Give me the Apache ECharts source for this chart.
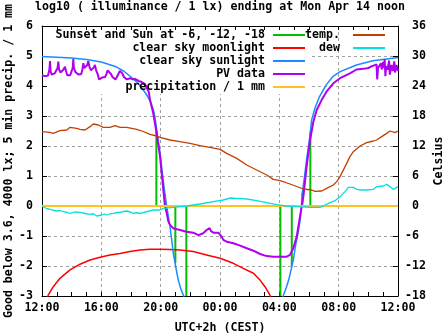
<!DOCTYPE html>
<html><head><meta charset="utf-8">
<script src="https://cdn.jsdelivr.net/npm/echarts@6/dist/echarts.min.js"></script>
<style>html,body{margin:0;padding:0;background:#fff}#c{width:447px;height:335px}</style>
</head><body><div id="c"></div>
<script>
// ---- data (x in hours after 12:00 of Apr 13) ----
const xTickLabels = ['12:00','16:00','20:00','00:00','04:00','08:00','12:00'];

const sunEventHours  = [7.71, 8.30, 8.99, 9.73, 16.07, 16.84, 17.55, 18.09];
const sunEventValues = [2.5, 0.4, -1.9, -3, -3, -2.0, 0.43, 2.45];

const moonHours  = [0.30,0.42,0.76,1.21,1.89,2.56,3.24,3.91,4.58,5.26,5.93,6.61,7.28,7.96,8.63,9.30,10.2,11.1,12.0,12.9,13.57,14.25,14.7,15.03,15.37,15.5];
const moonValues = [-3.2,-2.97,-2.69,-2.41,-2.13,-1.94,-1.80,-1.71,-1.63,-1.58,-1.52,-1.47,-1.44,-1.44,-1.45,-1.47,-1.52,-1.63,-1.74,-1.91,-2.08,-2.24,-2.47,-2.69,-2.97,-3.2];

const sunlightHours  = [0,1,2,3,4,5,5.5,6,6.5,7,7.3,7.5,7.62,7.8,7.96,8.1,8.2,8.3,8.41,8.52,8.63,8.75,8.85,8.97,9.08,9.19,9.35,9.53,9.7,
  12.9,
  16.1,16.28,16.47,16.63,16.84,16.96,17.1,17.3,17.42,17.55,17.7,17.85,18.0,18.18,18.4,18.7,19.15,19.6,20.1,21.2,22.3,23.5,24];
const sunlightValues = [4.98,4.96,4.93,4.88,4.80,4.64,4.50,4.30,4.08,3.75,3.50,3.22,2.95,2.30,1.77,1.15,0.75,0.35,-0.02,-0.35,-0.69,-1.15,-1.57,-1.90,-2.20,-2.47,-2.75,-2.97,-3.2,
  null,
  -3.2,-2.97,-2.72,-2.47,-2.02,-1.75,-1.30,-0.80,-0.40,0.43,1.00,1.60,2.10,2.87,3.26,3.64,4.03,4.31,4.48,4.70,4.84,4.92,4.95];

const pvHours = [0.0,0.1,0.2,0.3,0.4,0.5,0.54,0.58,0.65,0.75,0.85,0.95,1.05,1.1,1.15,1.25,1.35,1.45,1.55,1.62,1.7,1.8,1.9,2.0,2.07,2.11,2.15,2.25,2.35,2.45,2.55,2.65,2.72,2.79,2.85,2.95,3.05,3.12,3.2,3.3,3.4,3.5,3.57,3.65,3.75,3.85,3.95,4.05,4.15,4.25,4.35,4.42,4.47,4.55,4.65,4.75,4.85,4.95,5.05,5.15,5.25,5.33,5.42,5.52,5.62,5.72,5.82,5.95,6.1,6.25,6.4,6.55,6.7,6.83,6.95,7.06,7.2,7.28,7.5,7.73,7.96,8.07,8.18,8.29,8.41,8.52,8.63,8.85,9.3,9.75,10.2,10.54,10.87,11.1,11.21,11.3,11.4,11.55,11.89,12.0,12.11,12.22,12.45,12.9,13.35,13.8,14.25,14.7,15.15,15.6,16.04,16.5,16.72,16.94,17.17,17.39,17.62,17.84,18.07,18.29,18.52,18.85,19.18,19.64,20.09,20.76,21.2,21.5,21.8,22.0,22.15,22.25,22.35,22.45,22.55,22.6,22.65,22.75,22.85,22.9,23.0,23.05,23.1,23.15,23.2,23.3,23.4,23.45,23.55,23.65,23.75,23.8,23.9,24];
const pvValues = [4.36,4.37,4.33,4.31,4.34,4.55,4.83,4.50,4.38,4.40,4.42,4.45,4.60,4.81,4.55,4.45,4.50,4.55,4.64,4.50,4.36,4.37,4.36,4.40,4.60,4.90,4.60,4.47,4.42,4.38,4.33,4.40,4.55,4.76,4.60,4.55,4.70,4.83,4.64,4.52,4.55,4.62,4.70,4.52,4.40,4.22,4.20,4.28,4.26,4.30,4.40,4.52,4.58,4.50,4.40,4.30,4.26,4.22,4.30,4.40,4.50,4.53,4.42,4.30,4.25,4.22,4.20,4.26,4.22,4.24,4.20,4.16,4.14,4.11,4.06,4.00,3.80,3.53,3.09,2.42,1.64,1.09,0.53,0.00,-0.24,-0.52,-0.63,-0.74,-0.80,-0.86,-0.89,-0.97,-0.91,-0.80,-0.86,-0.74,-0.84,-0.89,-0.89,-0.90,-1.02,-1.13,-1.19,-1.24,-1.32,-1.41,-1.49,-1.60,-1.67,-1.69,-1.69,-1.69,-1.63,-1.41,-1.02,-0.36,0.31,1.31,2.20,2.80,3.20,3.53,3.81,4.09,4.26,4.42,4.55,4.57,4.58,4.60,4.64,4.58,4.68,4.62,4.72,4.22,4.60,4.66,4.76,4.55,4.80,4.60,4.90,4.33,4.66,4.55,4.85,4.38,4.70,4.50,4.82,4.45,4.70,4.50];

const precipHours  = [0,2,4,6,8,10,12,14,16,18,20,22,24];
const precipValues = [0,0,0,0,0,0,0,0,0,0,0,0,0];

const tempHours  = [0,0.54,0.76,1.21,1.67,1.89,2.34,2.56,2.9,3.24,3.46,3.8,3.91,4.13,4.58,4.92,5.26,5.71,6.05,6.38,6.83,7.28,7.73,7.96,8.63,9.3,9.98,10.65,11.33,12.0,12.45,13.13,13.8,14.47,15.15,15.59,16.05,16.72,17.17,17.62,18.18,18.4,18.86,19.19,19.64,19.87,20.09,20.43,20.76,20.99,21.44,21.89,22.34,22.56,22.9,23.24,23.46,23.8,24];
const tempValues = [14.87,14.73,14.53,15.07,15.2,15.73,15.53,15.33,15.2,15.87,16.4,16.2,16.4,15.73,15.73,16.07,15.73,15.73,15.53,15.33,14.9,14.33,14.0,13.73,13.2,12.87,12.53,12.07,11.73,11.33,10.53,9.53,8.2,7.2,6.2,5.33,5.07,4.4,3.9,3.4,3.2,2.93,3.0,3.53,4.2,4.87,5.87,7.87,9.87,10.87,12.0,12.67,13.0,13.2,13.87,14.53,15.0,14.67,15.0];

const dewHours  = [0,0.09,0.32,0.54,0.75,0.99,1.2,1.44,1.7,1.89,2.2,2.56,2.9,3.24,3.45,3.69,4.02,4.2,4.36,4.6,4.81,5.05,5.26,5.5,5.71,5.95,6.16,6.4,6.61,6.85,7.06,7.5,7.96,8.18,8.85,9.75,10.65,11.55,12.22,12.7,13.13,13.8,14.47,15.15,15.82,16.5,17.17,17.84,18.07,18.74,19.08,19.42,19.75,20.09,20.43,20.65,20.99,21.22,21.55,21.9,22.34,22.56,23.01,23.24,23.46,23.68,24];
const dewValues = [-0.1,-0.27,-0.5,-0.67,-0.85,-1.0,-0.9,-1.13,-1.3,-1.47,-1.2,-1.27,-1.5,-1.67,-1.55,-2.0,-1.8,-1.6,-1.8,-1.55,-1.47,-1.3,-1.27,-1.1,-1.0,-1.2,-1.47,-1.35,-1.47,-1.3,-1.13,-0.8,-0.8,-0.47,-0.27,0,0.4,0.87,1.2,1.6,1.53,1.4,1.07,0.67,0.27,0,-0.13,-0.2,-0.27,-0.27,0.2,0.67,1.07,1.87,2.87,3.73,3.73,3.33,3.2,3.2,3.33,3.87,4.0,4.33,3.87,3.33,3.87];

// ---- build ----
const zip = (xs, ys) => xs.map((x, i) => [x, ys[i] === null ? '-' : ys[i]]);
const sunEventData = [];
sunEventHours.forEach((h, i) => { sunEventData.push([h, 0], [h, sunEventValues[i]], [h, '-']); });

const FF = '"DejaVu Sans Mono", monospace';
const FS = 11.6;
const txt = { fontFamily: FF, fontSize: FS, fontWeight: 'bold', color: '#000' };

const C = { green: '#00c000', red: '#ff0000', blue: '#1a8cff', purple: '#b000f0', yellow: '#ffc020', temp: '#c04000', dew: '#00e0e0' };

function leg(name, right, rowY, padR) {
  return { data: [name], right: right, top: rowY - 6.5, align: 'right', icon: 'rect', itemWidth: 32, itemHeight: 2,
    padding: 0, itemStyle: { borderWidth: 0 },
    textStyle: Object.assign({}, txt, { lineHeight: 13, padding: [0, padR, 0, 0] }) };
}
function line(name, data, color, width, yIdx) {
  return { name: name, type: 'line', data: data, yAxisIndex: yIdx || 0, symbol: 'none', color: color,
    lineStyle: { color: color, width: width }, clip: true, connectNulls: false, animation: false };
}

const grid = { left: 42, right: 49, top: 26, bottom: 39, outerBoundsMode: 'none' };
const blackLine = { show: true, onZero: false, lineStyle: { color: '#000', width: 1 } };
const dashGrid = { show: true, showMinLine: false, showMaxLine: false, lineStyle: { color: '#a0a0a0', type: [3, 3], width: 1 } };

const option = {
  animation: false,
  backgroundColor: '#fff',
  title: { text: 'log10 ( illuminance / 1 lx) ending at Mon Apr 14 noon', left: 35, top: 1, padding: 0,
    textStyle: Object.assign({}, txt) },
  grid: grid,
  graphic: [{ type: 'rect', z: 1, shape: { x: 48, y: 31, width: 261, height: 63 }, style: { fill: '#fff' }, silent: true }],
  legend: [
    leg('Sunset and Sun at -6, -12, -18', 142, 35, 3),
    leg('clear sky moonlight', 142, 48, 3),
    leg('clear sky sunlight', 142, 61, 3),
    leg('PV data', 142, 74, 3),
    leg('precipitation / 1 mm', 142, 87, 3),
    leg('temp.', 62, 35, 8),
    leg('dew', 62, 48, 8)
  ],
  xAxis: [
    { type: 'value', min: 0, max: 24, interval: 4, position: 'bottom',
      axisLine: blackLine, axisTick: { show: true, inside: true, length: 4, lineStyle: { color: '#000' } },
      minorTick: { show: true, splitNumber: 4, length: 4, lineStyle: { color: '#000' } },
      splitLine: dashGrid,
      axisLabel: Object.assign({}, txt, { margin: 6, formatter: v => xTickLabels[Math.round(v / 4)] }),
      name: 'UTC+2h (CEST)', nameLocation: 'middle', nameGap: 26, nameMoveOverlap: false, nameTextStyle: Object.assign({}, txt) },
    { type: 'value', min: 0, max: 24, interval: 4, position: 'top', z: 3,
      axisLine: blackLine, axisTick: { show: true, inside: true, length: 4, lineStyle: { color: '#000' } },
      minorTick: { show: true, splitNumber: 4, length: 4, lineStyle: { color: '#000' } },
      splitLine: { show: false }, axisLabel: { show: false } }
  ],
  yAxis: [
    { type: 'value', min: -3, max: 6, interval: 1, position: 'left',
      axisLine: blackLine, axisTick: { show: true, inside: true, length: 5, lineStyle: { color: '#000' } },
      splitLine: dashGrid,
      axisLabel: Object.assign({}, txt, { margin: 9 }),
      name: 'Good below 3.6, 4000 lx; 5 min precip. / 1 mm', nameLocation: 'middle', nameRotate: 90, nameGap: 27,
      nameMoveOverlap: false, nameTextStyle: Object.assign({}, txt) },
    { type: 'value', min: -18, max: 36, interval: 6, position: 'right',
      axisLine: blackLine, axisTick: { show: true, inside: true, length: 5, lineStyle: { color: '#000' } },
      splitLine: { show: false },
      axisLabel: Object.assign({}, txt, { margin: 7, align: 'left', formatter: v => (v >= 0 ? ' ' + v : '' + v) }),
      name: 'Celsius', nameLocation: 'middle', nameRotate: 90, nameGap: 35, nameMoveOverlap: false, nameTextStyle: Object.assign({}, txt) }
  ],
  series: [
    line('Sunset and Sun at -6, -12, -18', sunEventData, C.green, 2),
    line('clear sky moonlight', zip(moonHours, moonValues), C.red, 1.5),
    line('clear sky sunlight', zip(sunlightHours, sunlightValues), C.blue, 1.5),
    line('PV data', zip(pvHours, pvValues), C.purple, 2),
    line('precipitation / 1 mm', zip(precipHours, precipValues), C.yellow, 2),
    line('temp.', zip(tempHours, tempValues), C.temp, 1.3, 1),
    line('dew', zip(dewHours, dewValues), C.dew, 1.3, 1)
  ]
};
const chart = echarts.init(document.getElementById('c'), null, { renderer: 'canvas' });
chart.setOption(option);
</script></body></html>
